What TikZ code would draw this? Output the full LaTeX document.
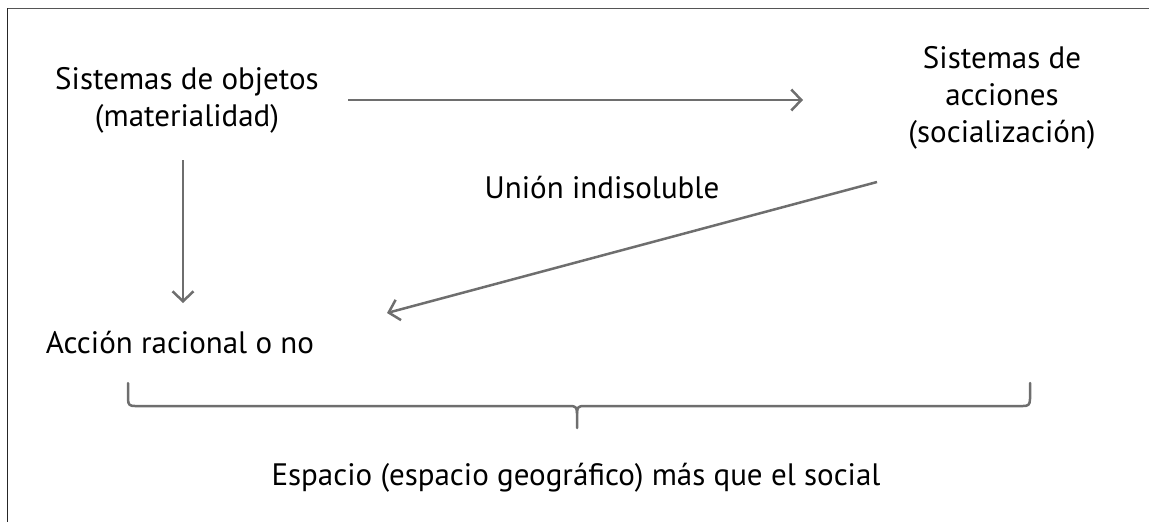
\documentclass[tikz,border=0pt]{standalone}
\usepackage{fontspec}
\setmainfont{PT Sans}
\usetikzlibrary{arrows.meta}
\definecolor{arrowgray}{HTML}{6E6E6E}
\definecolor{framegray}{HTML}{555555}
\tikzset{
  lbl/.style={inner sep=0pt, align=center, font=\fontsize{31}{37}\selectfont, text=black},
  conn/.style={draw=arrowgray, line width=2.5pt, -{Straight Barb[length=10pt,width=21pt]}},
  bracepath/.style={draw=arrowgray, line width=2.5pt, line cap=round, line join=round}
}
\begin{document}
\begin{tikzpicture}[x=1pt,y=-1pt]
\useasboundingbox (0,0) rectangle (1149,522);
% frame (top and left only)
\draw[framegray, line width=1.5pt] (7,8.5) -- (1149,8.5);
\draw[black!85, line width=1.8pt] (7.5,8) -- (7.5,522);
% nodes
\node[lbl] (obj) at (187,100) {Sistemas de objetos\\(materialidad)};
\node[lbl] (acc) at (1002,98) {Sistemas de\\acciones\\(socialización)};
\node[lbl, anchor=base] (union) at (602,198) {Unión indisoluble};
\node[lbl, anchor=base] (racional) at (180,353) {Acción racional o no};
\node[lbl, anchor=base] (espacio) at (576,485) {Espacio (espacio geográfico) más que el social};
% connector anchors
\coordinate (h1) at (348,100);
\coordinate (h2) at (803,100);
\coordinate (v1) at (183,160);
\coordinate (v2) at (183,303);
\coordinate (d1) at (877,182);
\coordinate (d2) at (387,313);
\draw[conn] (h1) -- (h2);
\draw[conn] (v1) -- (v2);
\draw[conn] (d1) -- (d2);
% brace
\coordinate (bl) at (128,383);
\coordinate (br) at (1030,383);
\coordinate (bm) at (577,428);
\draw[bracepath] (bl) -- (128,399) .. controls (128,405) and (130,406) .. (135,406)
  -- (570,406) .. controls (575,406) and (577,407) .. (577,413) -- (bm);
\draw[bracepath] (br) -- (1030,399) .. controls (1030,405) and (1028,406) .. (1023,406)
  -- (584,406) .. controls (579,406) and (577,407) .. (577,413);
\end{tikzpicture}
\end{document}
